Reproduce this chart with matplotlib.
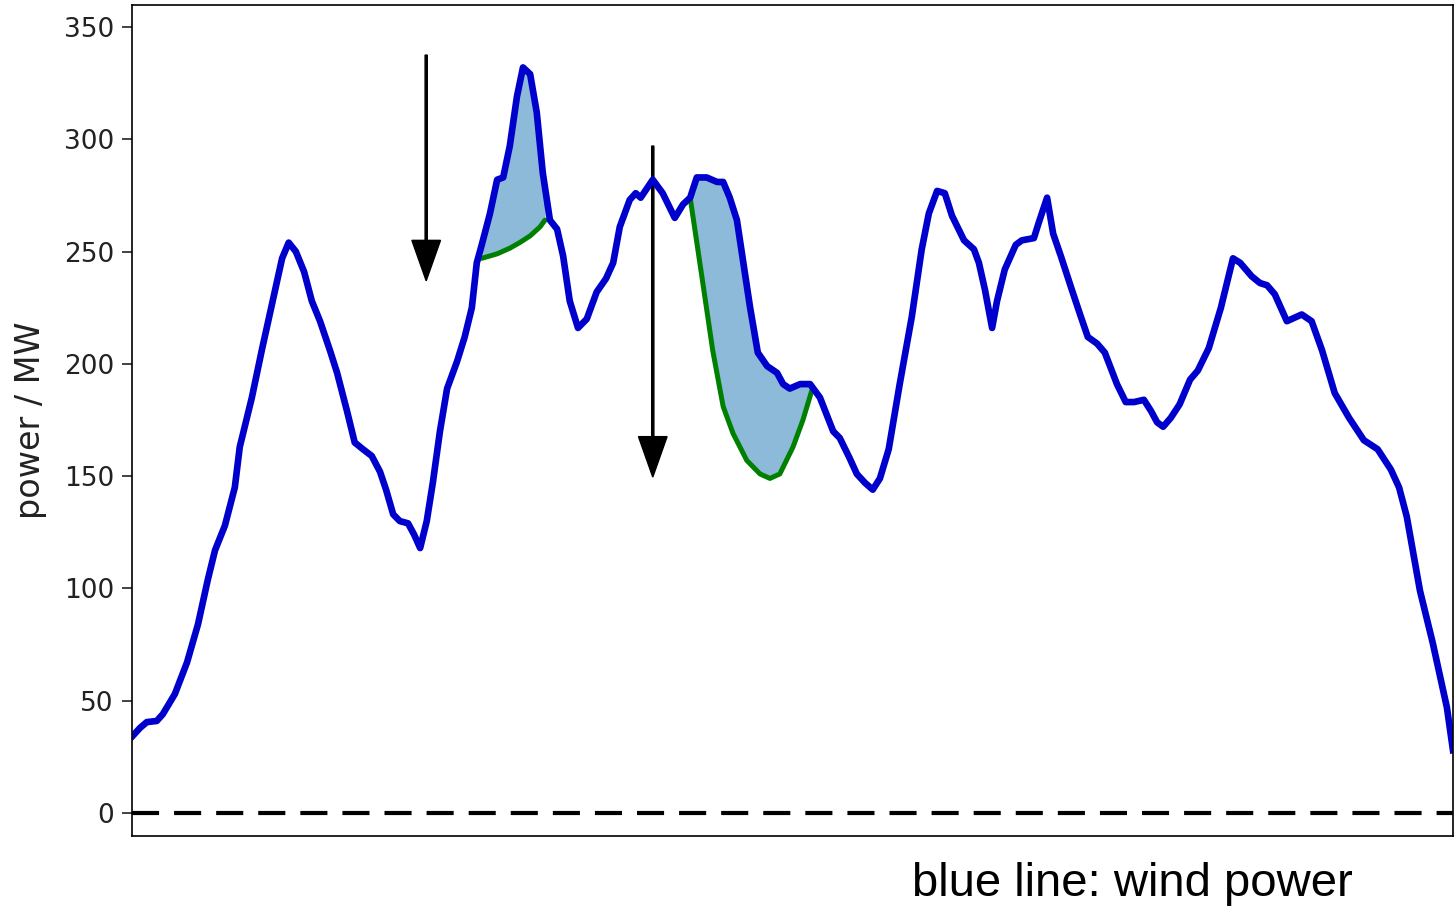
import numpy as np
import matplotlib.pyplot as plt

# Wind power over one day (hours) in MW
t = [0, 0.15, 0.27, 0.45, 0.56, 0.78, 1.0, 1.2, 1.38, 1.51, 1.69, 1.87, 1.96, 2.05,
     2.18, 2.36, 2.55, 2.73, 2.85, 2.98, 3.13, 3.27, 3.42, 3.6, 3.73, 3.91, 4.05,
     4.2, 4.36, 4.51, 4.62, 4.75, 4.87, 5.02, 5.13, 5.24, 5.36, 5.47, 5.6, 5.73,
     5.91, 6.05, 6.18, 6.27, 6.36, 6.51, 6.64, 6.75, 6.87, 7.0, 7.11, 7.24, 7.36,
     7.47, 7.6, 7.73, 7.84, 7.96, 8.11, 8.27, 8.45, 8.62, 8.75, 8.87, 9.05, 9.16,
     9.25, 9.47, 9.65, 9.87, 10.02, 10.15, 10.27, 10.45, 10.64, 10.75, 10.87, 11.0,
     11.11, 11.24, 11.38, 11.55, 11.73, 11.84, 11.96, 12.15, 12.33, 12.51, 12.75,
     12.87, 13.05, 13.18, 13.33, 13.47, 13.6, 13.76, 13.96, 14.18, 14.36, 14.49,
     14.64, 14.78, 14.91, 15.13, 15.31, 15.4, 15.51, 15.64, 15.73, 15.87, 16.07,
     16.18, 16.4, 16.49, 16.64, 16.75, 16.89, 17.09, 17.24, 17.38, 17.55, 17.69,
     17.91, 18.07, 18.22, 18.4, 18.53, 18.64, 18.75, 18.89, 19.05, 19.24, 19.38,
     19.58, 19.8, 20.02, 20.15, 20.36, 20.51, 20.64, 20.78, 21.0, 21.27, 21.45,
     21.64, 21.87, 22.13, 22.4, 22.65, 22.89, 23.04, 23.18, 23.42, 23.65, 23.91, 24.02]
power = [34, 38, 40.5, 41, 44, 53, 67, 84, 104, 117, 128, 145, 163, 172,
         185, 206, 227, 247, 254, 250, 241, 228, 219, 206, 196, 179, 165,
         162, 159, 152, 144, 133, 130, 129, 124, 118, 130, 147, 170, 189,
         201, 212, 225, 245, 253, 267, 282, 283, 297, 319, 332, 329, 312,
         285, 264, 260, 248, 228, 216, 220, 232, 238, 245, 261, 273, 276,
         274, 282, 276, 265, 271, 274, 283, 283, 281, 281, 274, 264,
         246, 225, 205, 199, 196, 191, 189, 191, 191, 185, 170,
         167, 158, 151, 147, 144, 149, 162, 191, 221, 251, 267,
         277, 276, 266, 255, 251, 245, 233, 216, 228, 242, 253,
         255, 256, 263, 274, 258, 248, 233, 222, 212, 209, 205,
         191, 183, 183, 184, 179, 174, 172, 176, 182, 193, 197,
         207, 225, 247, 245, 239, 236, 235, 231, 219, 222, 219,
         206, 187, 176, 166, 162, 153, 145, 132, 99, 76, 47, 28]

# Reduced output profiles (green)
cut1_t = [6.36, 6.64, 6.87, 7.05, 7.24, 7.42, 7.51]
cut1_p = [247, 249, 251.5, 254, 257, 261, 264]
cut2_t = [10.15, 10.38, 10.56, 10.75, 10.93, 11.18, 11.42, 11.6, 11.78, 12.02, 12.2, 12.36]
cut2_p = [274, 236, 206, 181, 169, 157, 151, 149, 151, 163, 175, 188]

# Arrows: (time, start, end)
arrows = [(5.35, 337.5, 237), (9.47, 297, 149.6)]

plt.rcParams['font.size'] = 19

fig = plt.figure(figsize=(14.55, 9.06), dpi=100)
ax = fig.add_axes([0.0907, 0.0773, 0.9079, 0.9172])

for ct, cp in [(cut1_t, cut1_p), (cut2_t, cut2_p)]:
    tt = np.linspace(ct[0], ct[-1], 400)
    ax.fill_between(tt, np.interp(tt, ct, cp), np.interp(tt, t, power),
                    color='C0', alpha=0.5, lw=0)
    ax.plot(ct, cp, color='green', lw=3.6, solid_capstyle='round')

ax.plot(t, power, color='mediumblue', lw=4.8, solid_joinstyle='round')
ax.axhline(0, color='k', lw=3, linestyle=(0, (6.5, 3.6)))

for x, y0, y1 in arrows:
    ax.arrow(x, y0, 0, y1 - y0, length_includes_head=True, width=0.04,
             head_width=0.52, head_length=18, color='k')

ax.set_xlim(0, 24.02)
ax.set_ylim(-10.2, 359.8)
ax.set_xticks([])
ax.set_yticks([0, 50, 100, 150, 200, 250, 300, 350])
ax.tick_params(axis='y', length=7, width=1.2, pad=6, colors='#222222')
for s in ax.spines.values():
    s.set_linewidth(1.2)
ax.set_ylabel('power / MW', fontsize=24, labelpad=12, color='#222222')

fig.text(0.627, 0.0105, 'blue line: wind power', family='Liberation Sans',
         fontsize=34, va='baseline')

fig.savefig('out.png', dpi=100)
